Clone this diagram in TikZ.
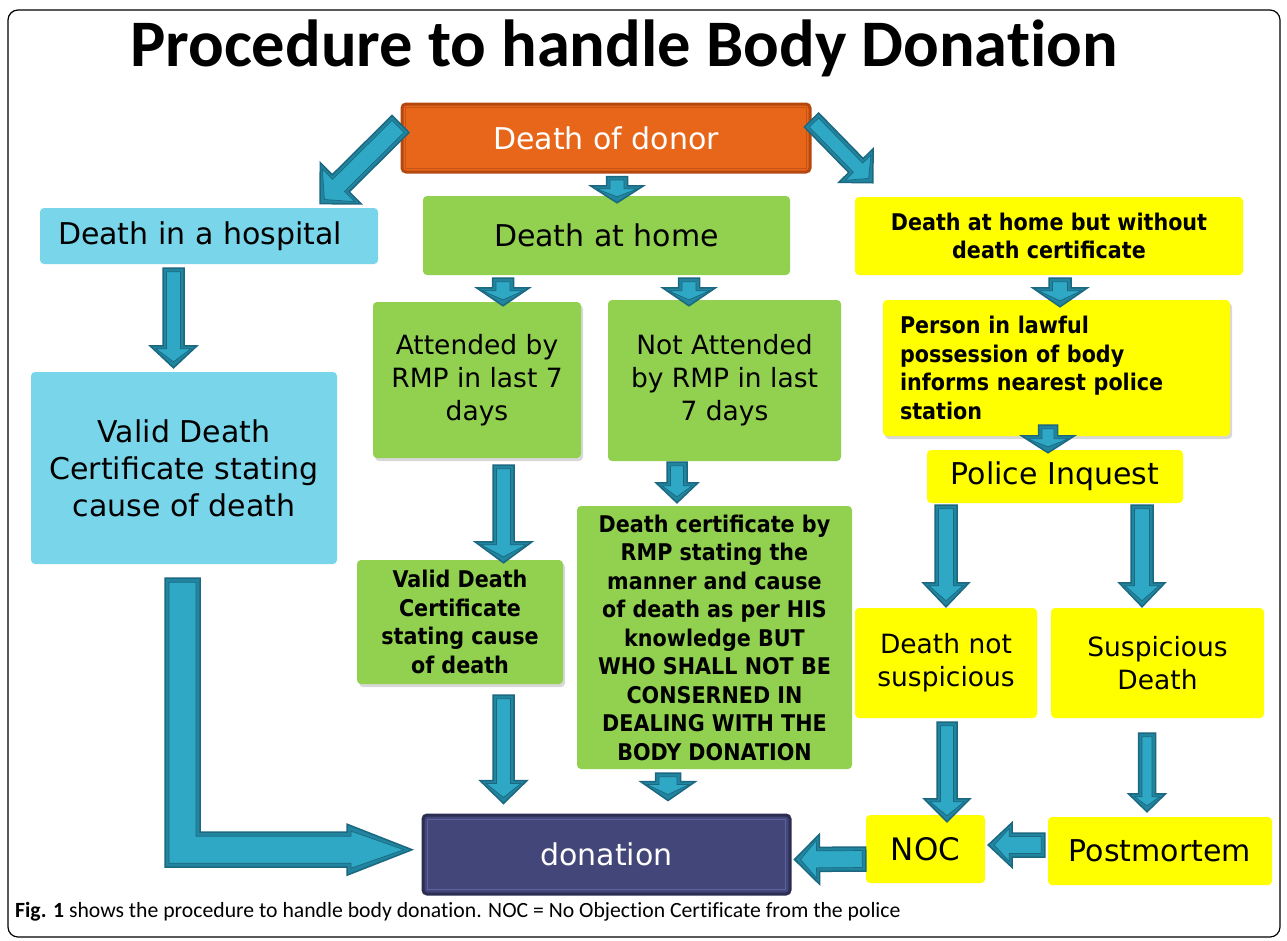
\documentclass[tikz,border=0pt]{standalone}
\usepackage{fontspec}
\setmainfont{DejaVu Sans}
\newfontfamily\titlefont{Carlito}[Ligatures=NoCommon]
\newfontfamily\capfont{Carlito}[Ligatures=NoCommon]
\newfontfamily\narrowbold{DejaVu Sans}[FakeStretch=0.9]
\usetikzlibrary{calc,shadows}

\definecolor{orangefill}{HTML}{E8661A}
\definecolor{orangeedge}{HTML}{B5480E}
\definecolor{orangeinner}{HTML}{C65316}
\definecolor{cyanfill}{HTML}{78D5EA}
\definecolor{greenfill}{HTML}{92D050}
\definecolor{yellowfill}{HTML}{FFFF00}
\definecolor{navyfill}{HTML}{434678}
\definecolor{navyedge}{HTML}{2B2D52}
\definecolor{navyinner}{HTML}{5E62A0}
\definecolor{arrowdark}{HTML}{2185A0}
\definecolor{arrowlight}{HTML}{2FA8C5}
\definecolor{arrowedge}{HTML}{1B6880}

\newdimen\bax
\newdimen\bay
\newcommand{\blockarrow}[5]{%
  \path #1 coordinate (ba) #2 coordinate (bb);
  \pgfextractx{\bax}{\pgfpointdiff{\pgfpointanchor{ba}{center}}{\pgfpointanchor{bb}{center}}}%
  \pgfextracty{\bay}{\pgfpointdiff{\pgfpointanchor{ba}{center}}{\pgfpointanchor{bb}{center}}}%
  \pgfmathsetmacro{\bang}{atan2(\bay,\bax)}%
  \pgfmathsetmacro{\blen}{veclen(\bax,\bay)}%
  \begin{scope}[shift={(ba)}, rotate=\bang]
    \draw[arrowout] (0pt,#3pt) -- ({\blen pt-#5pt},#3pt) -- ({\blen pt-#5pt},#4pt) -- (\blen pt,0pt)
      -- ({\blen pt-#5pt},-#4pt) -- ({\blen pt-#5pt},-#3pt) -- (0pt,-#3pt) -- cycle;
    \draw[arrowin] (3.5pt,{#3pt-3.5pt}) -- ({\blen pt-#5pt+3pt},{#3pt-3.5pt}) -- ({\blen pt-#5pt+3pt},{#4pt-6pt})
      -- ({\blen pt-6pt},0pt) -- ({\blen pt-#5pt+3pt},{-#4pt+6pt}) -- ({\blen pt-#5pt+3pt},{-#3pt+3.5pt})
      -- (3.5pt,{-#3pt+3.5pt}) -- cycle;
  \end{scope}%
}

\tikzset{
  box/.style={rectangle, rounded corners=4pt, inner sep=0pt, align=center, text=black},
  cyanbox/.style={box, fill=cyanfill},
  greenbox/.style={box, fill=greenfill},
  yellowbox/.style={box, fill=yellowfill},
  shadowed/.style={drop shadow={shadow xshift=2pt, shadow yshift=-3pt, opacity=0.3}},
  regtext/.style={font=\fontsize{30}{37}\selectfont},
  midtext/.style={font=\fontsize{26.5}{33}\selectfont},
  boldtext/.style={font=\narrowbold\bfseries\fontsize{23}{28.5}\selectfont},
  arrowout/.style={fill=arrowdark, draw=arrowedge, line width=1.5pt, line join=miter},
  arrowin/.style={fill=arrowlight, draw=arrowedge, line width=0.7pt, line join=miter},
}

\begin{document}
\begin{tikzpicture}[x=1pt, y=-1pt]
\useasboundingbox (0,0) rectangle (1287,940);
\fill[white] (0,0) rectangle (1287,940);
\draw[rounded corners=10pt, line width=1.2pt] (8,10) rectangle (1280,937);

% title and caption
\node[anchor=base, inner sep=0pt, font=\titlefont\bfseries\fontsize{66.5}{72}\selectfont] (title) at (624,66) {Procedure to handle Body Donation};
\node[anchor=base west, inner sep=0pt, font=\capfont\fontsize{21.7}{26}\selectfont] (caption) at (15,917) {\textbf{Fig. 1} shows the procedure to handle body donation. NOC = No Objection Certificate from the police};

% boxes
\node[box, fill=orangefill, draw=orangeedge, line width=3pt, text=white, regtext, minimum width=408, minimum height=68] (donor) at (606,138) {Death of donor};
\draw[orangeinner, line width=1pt] ([shift={(5,5)}]donor.north west) rectangle ([shift={(-5,-5)}]donor.south east);

\node[cyanbox, regtext, minimum width=338, minimum height=56] (hosp) at (209,236) {\hspace*{0pt}Death in a hospital\hspace*{18pt}};
\node[cyanbox, regtext, minimum width=306, minimum height=192] (vdc) at (184,468) {Valid Death\\Certificate stating\\cause of death};

\node[greenbox, regtext, minimum width=367, minimum height=79] (home) at (606.5,235.5) {Death at home};
\node[greenbox, shadowed, midtext, minimum width=208, minimum height=156] (att) at (477,380) {Attended by\\RMP in last 7\\days};
\node[greenbox, midtext, minimum width=233, minimum height=161] (notatt) at (724.5,380.5) {Not Attended\\by RMP in last\\7 days};
\node[greenbox, shadowed, boldtext, minimum width=206, minimum height=124] (vdc2) at (460,622) {Valid Death\\Certificate\\stating cause\\of death};
\node[greenbox, boldtext, minimum width=275, minimum height=263] (rmp) at (714.5,637.5) {Death certificate by\\RMP stating the\\manner and cause\\of death as per HIS\\knowledge BUT\\WHO SHALL NOT BE\\CONSERNED IN\\DEALING WITH THE\\BODY DONATION};

\node[yellowbox, boldtext, minimum width=388, minimum height=78] (nodc) at (1049,236) {Death at home but without\\death certificate};
\node[yellowbox, shadowed, boldtext, align=left, text width=313, minimum width=347, minimum height=136] (person) at (1056.5,368) {Person in lawful\\possession of body\\informs nearest police\\station};
\node[yellowbox, regtext, minimum width=256, minimum height=53] (inquest) at (1055,476.5) {Police Inquest};
\node[yellowbox, midtext, minimum width=182, minimum height=110] (notsusp) at (946,663) {Death not\\suspicious};
\node[yellowbox, midtext, minimum width=213, minimum height=110] (susp) at (1157.5,663) {Suspicious\\Death};
\node[yellowbox, font=\fontsize{31}{37}\selectfont, minimum width=119, minimum height=68] (noc) at (925.5,849) {NOC};
\node[yellowbox, regtext, minimum width=224, minimum height=68] (post) at (1160,851) {Postmortem};

\node[box, fill=navyfill, draw=navyedge, line width=3pt, text=white, regtext, minimum width=367, minimum height=79] (don) at (606.5,854.5) {donation};
\draw[navyinner, line width=1pt] ([shift={(6,6)}]don.north west) rectangle ([shift={(-6,-6)}]don.south east);

% arrows
\blockarrow{($(donor.west)+(0,-14)$)}{($(hosp.north)+(111,-4)$)}{12}{29}{29}
\blockarrow{($(donor.south)+(11,3)$)}{($(home.north)+(10.5,7)$)}{10.5}{26.5}{17}
\blockarrow{($(donor.east)+(0,-18)$)}{($(nodc.north west)+(18,-14)$)}{10}{24}{24}
\blockarrow{($(hosp.south)+(-35.5,4)$)}{($(vdc.north)+(-10.5,-4)$)}{10.5}{23.5}{22}
\blockarrow{($(home.south)+(-103.5,3)$)}{($(att.north)+(26,4)$)}{10.5}{26.5}{18}
\blockarrow{($(home.south)+(82.5,3)$)}{($(notatt.north)+(-35.5,6)$)}{10.5}{26.5}{18}
\blockarrow{($(att.south)+(26.5,7)$)}{($(vdc2.north)+(43.5,3)$)}{10.5}{28.5}{21}
\blockarrow{($(notatt.south)+(-47.5,1)$)}{($(rmp.north)+(-37.5,-3)$)}{10}{21}{20}
\blockarrow{($(vdc2.south)+(43.5,11)$)}{($(don.north)+(-103,-10)$)}{10.5}{23.5}{23}
\blockarrow{($(rmp.south)+(-46.5,4)$)}{($(don.north)+(61.5,-13)$)}{12.5}{27.5}{19}
\blockarrow{($(nodc.south)+(11,3)$)}{($(person.north)+(3.5,7)$)}{11}{27.5}{19}
\blockarrow{($(person.south)+(-8.5,-11)$)}{($(inquest.north)+(-7,3)$)}{9.5}{26.5}{17}
\blockarrow{($(inquest.south)+(-109,2)$)}{($(notsusp.north)+(0,-1)$)}{11}{23}{24}
\blockarrow{($(inquest.south)+(87,2)$)}{($(susp.north)+(-15.5,-1)$)}{11}{23}{24}
\blockarrow{($(notsusp.south)+(1,4)$)}{($(noc.north)+(21.5,7)$)}{10}{23}{23}
\blockarrow{($(susp.south)+(-10.5,15)$)}{($(post.north)+(-13,-5)$)}{8.5}{18.5}{18}
\blockarrow{($(post.west)+(-3,-6)$)}{($(noc.east)+(3,-4)$)}{12}{22.5}{24}
\blockarrow{($(noc.west)+(0,10)$)}{($(don.east)+(3,5)$)}{12}{25}{25}

% L-shaped arrow from hospital certificate to donation
\draw[arrowout] ($(vdc.south)+(-19,14)$) -- ++(35,0) -- ++(0,254) -- ++(147,0) -- ++(0,-8) -- ++(65,25.5) -- ++(-65,25.5) -- ++(0,-8) -- ++(-182,0) -- cycle;
\draw[arrowin] ($(vdc.south)+(-15,18)$) -- ++(27,0) -- ++(0,254) -- ++(155,0) -- ++(0,-5) -- ++(53,18.5) -- ++(-53,18.5) -- ++(0,-5) -- ++(-182,0) -- cycle;
\end{tikzpicture}
\end{document}
